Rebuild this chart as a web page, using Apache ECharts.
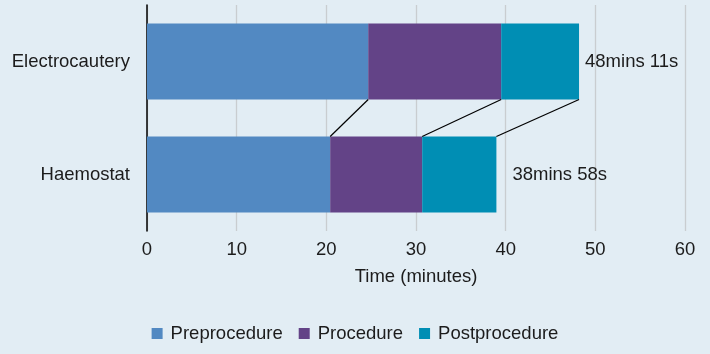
<!DOCTYPE html>
<html>
<head>
<meta charset="utf-8">
<script src="https://cdn.jsdelivr.net/npm/echarts@6/dist/echarts.min.js"></script>
<style>
  html, body { margin: 0; padding: 0; background: #e2edf4; }
  #chart { width: 710px; height: 354px; }
</style>
</head>
<body>
<div id="chart"></div>
<script>
// Time spent per phase (minutes), by technique
const categories = ['Electrocautery', 'Haemostat'];
const preprocedure = [24.67, 20.43];
const procedure = [14.83, 10.26];
// Total durations in seconds (48 min 11 s, 38 min 58 s)
const totalSeconds = [48 * 60 + 11, 38 * 60 + 58];
const xTicks = [0, 10, 20, 30, 40, 50, 60];

const totals = totalSeconds.map(s => s / 60);
const postprocedure = totals.map((t, i) => +(t - preprocedure[i] - procedure[i]).toFixed(4));
const totalLabels = totalSeconds.map(s => Math.floor(s / 60) + 'mins ' + (s % 60) + 's');

const FONT = 'Liberation Sans, Arial, Helvetica, sans-serif';
const FS = 18.5;
const TEXT = '#1c1c1c';
const BAR_W = 76;
const colors = ['#5289c2', '#634387', '#008eb4'];

// Cumulative segment boundaries for the connector lines between bars
const cum1 = preprocedure.slice();
const cum2 = preprocedure.map((v, i) => v + procedure[i]);
const connectors = [
  [cum1[0], cum1[1]],
  [cum2[0], cum2[1]],
  [totals[0], totals[1]]
];

const chart = echarts.init(document.getElementById('chart'), null, { renderer: 'canvas' });
chart.setOption({
  backgroundColor: '#e2edf4',
  animation: false,
  color: colors,
  textStyle: { fontFamily: FONT, color: TEXT },
  grid: { left: 147, right: 25, top: 5, height: 226, containLabel: false },
  legend: {
    bottom: 6,
    left: 'center',
    icon: 'rect',
    itemWidth: 11,
    itemHeight: 11,
    itemGap: 16,
    textStyle: { fontSize: FS, color: TEXT, fontFamily: FONT, padding: [0, 0, 0, 3] },
    data: ['Preprocedure', 'Procedure', 'Postprocedure']
  },
  xAxis: {
    type: 'value',
    min: xTicks[0],
    max: xTicks[xTicks.length - 1],
    interval: 10,
    name: 'Time (minutes)',
    nameLocation: 'middle',
    nameGap: 36,
    nameTextStyle: { fontSize: FS, color: TEXT, fontFamily: FONT },
    axisLine: { show: false },
    axisTick: { show: false },
    axisLabel: { fontSize: FS, color: TEXT, margin: 9, fontFamily: FONT },
    splitLine: { show: true, lineStyle: { color: '#c9cdd0', width: 1.3 } }
  },
  yAxis: {
    type: 'category',
    inverse: true,
    data: categories,
    axisLine: { show: true, lineStyle: { color: '#000', width: 1.5 } },
    axisTick: { show: false },
    axisLabel: { fontSize: FS, color: TEXT, margin: 17, fontFamily: FONT },
    splitLine: { show: false }
  },
  series: [
    {
      name: 'Preprocedure', type: 'bar', stack: 'time', barWidth: BAR_W,
      data: preprocedure, itemStyle: { color: colors[0] }
    },
    {
      name: 'Procedure', type: 'bar', stack: 'time', barWidth: BAR_W,
      data: procedure, itemStyle: { color: colors[1] }
    },
    {
      name: 'Postprocedure', type: 'bar', stack: 'time', barWidth: BAR_W,
      itemStyle: { color: colors[2] },
      data: postprocedure.map((v, i) => ({
        value: v,
        label: {
          show: true,
          position: 'right',
          distance: i === 0 ? 6 : 16,
          formatter: totalLabels[i],
          fontSize: FS,
          color: TEXT,
          fontFamily: FONT
        }
      }))
    },
    {
      name: 'connectors', type: 'custom', silent: true, z: 5,
      data: connectors,
      encode: { x: [0, 1] },
      renderItem: function (params, api) {
        const a = api.coord([api.value(0), 0]);
        const b = api.coord([api.value(1), 1]);
        return {
          type: 'line',
          shape: { x1: a[0], y1: a[1] + BAR_W / 2, x2: b[0], y2: b[1] - BAR_W / 2 },
          style: { stroke: '#000', lineWidth: 1.2 }
        };
      }
    }
  ]
});
</script>
</body>
</html>
